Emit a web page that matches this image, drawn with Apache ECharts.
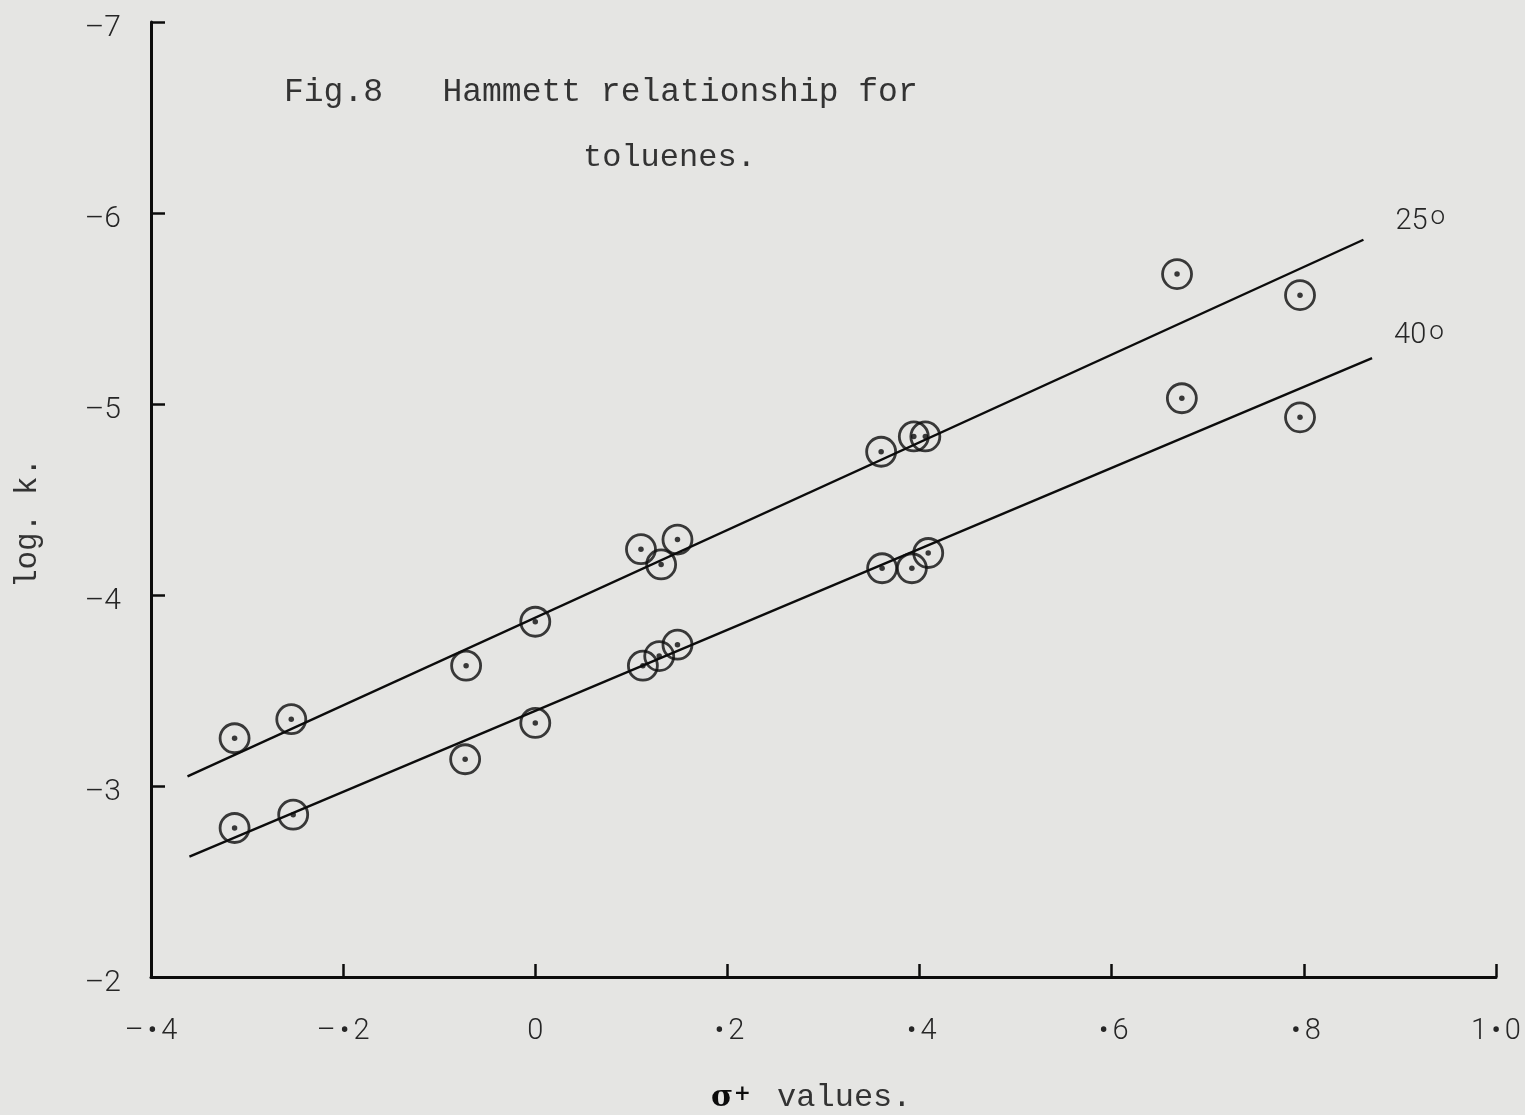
<!DOCTYPE html>
<html>
<head>
<meta charset="utf-8">
<title>Hammett relationship for toluenes</title>
<script src="https://cdn.jsdelivr.net/npm/echarts@6/dist/echarts.min.js"></script>
<style>
  html, body { margin: 0; padding: 0; background: #e5e5e3; }
  #chart { width: 1525px; height: 1115px; }
</style>
</head>
<body>
<div id="chart"></div>
<script>
// sigma+ constants of the substituents and measured log k at 25 and 40 degrees
const sigma25 = [-0.313, -0.254, -0.072, 0.000, 0.110, 0.131, 0.148, 0.360, 0.394, 0.406, 0.668, 0.796];
const logk25  = [-3.25, -3.35, -3.63, -3.86, -4.24, -4.16, -4.29, -4.75, -4.83, -4.83, -5.68, -5.57];
const sigma40 = [-0.313, -0.252, -0.073, 0.000, 0.112, 0.129, 0.148, 0.361, 0.392, 0.409, 0.673, 0.796];
const logk40  = [-2.78, -2.85, -3.14, -3.33, -3.63, -3.68, -3.74, -4.14, -4.14, -4.22, -5.03, -4.93];

// least-squares lines, drawn between their two end points
const fitX25 = [-0.362, 0.862];
const fitY25 = [-3.05, -5.86];
const fitX40 = [-0.360, 0.871];
const fitY40 = [-2.63, -5.24];

// axis ranges and tick labels
const xMin = -0.4, xMax = 1.0, xStep = 0.2;
const yMin = -7, yMax = -2, yStep = 1;
const xTickLabels = ['\u2013\u20224', '\u2013\u20222', '0', '\u20222', '\u20224', '\u20226', '\u20228', '1\u20220'];
const yTickLabels = ['\u20137', '\u20136', '\u20135', '\u20134', '\u20133', '\u20132'];

const ink = '#0c0c0c';
const typeInk = '#333333';
const letterInk = '#262626';
const letterFont = 'Roboto, "Liberation Sans", sans-serif';
const typeFont = '"Liberation Mono", "DejaVu Sans Mono", monospace';

const zip = (xs, ys) => xs.map((x, i) => [x, ys[i]]);

function ringSeries(xs, ys) {
  return {
    type: 'scatter', data: zip(xs, ys), symbol: 'circle', symbolSize: 29,
    itemStyle: { color: 'rgba(0,0,0,0)', borderColor: ink, borderWidth: 2.8 },
    silent: true, z: 3
  };
}
function dotSeries(xs, ys) {
  return {
    type: 'scatter', data: zip(xs, ys), symbol: 'circle', symbolSize: 5.5,
    itemStyle: { color: ink }, silent: true, z: 4
  };
}
function fitSeries(xs, ys, label, offset) {
  return {
    type: 'line', data: zip(xs, ys), showSymbol: false, symbol: 'none',
    lineStyle: { color: ink, width: 2.4 }, silent: true, z: 2,
    endLabel: {
      show: true, formatter: '{n|' + label + '}{d|o}', offset: offset,
      rich: {
        n: { fontFamily: letterFont, fontWeight: 300, fontSize: 29, color: letterInk, lineHeight: 34 },
        d: { fontFamily: letterFont, fontWeight: 300, fontSize: 26, color: letterInk, lineHeight: 10, verticalAlign: 'top', padding: [0, 0, 0, 3] }
      }
    }
  };
}

// tick labels: the decimal point is a raised dot
const dotLabel = s => s.replace(/\u2022/g, '{b|\u2022}');

const chart = echarts.init(document.getElementById('chart'), null, { renderer: 'canvas' });

chart.setOption({
  animation: false,
  backgroundColor: '#e5e5e3',
  grid: { left: 151, right: 29, top: 22, bottom: 138, containLabel: false, outerBoundsMode: 'none' },
  xAxis: {
    type: 'value', min: xMin, max: xMax, interval: xStep,
    splitLine: { show: false },
    axisLine: { show: true, onZero: false, lineStyle: { color: ink, width: 3 } },
    axisTick: { show: true, inside: true, length: 13, lineStyle: { color: ink, width: 2.5 } },
    axisLabel: {
      show: true, margin: 40, showMinLabel: true, showMaxLabel: true,
      color: letterInk, fontFamily: letterFont, fontWeight: 300, fontSize: 29,
      formatter: v => dotLabel(xTickLabels[Math.round((v - xMin) / xStep)] || ''),
      rich: { b: { fontFamily: letterFont, fontSize: 30, color: letterInk, padding: [0, 4, 0, 4] } }
    }
  },
  yAxis: {
    type: 'value', min: yMin, max: yMax, interval: yStep, inverse: true,
    splitLine: { show: false },
    axisLine: { show: true, onZero: false, lineStyle: { color: ink, width: 3 } },
    axisTick: { show: true, inside: true, length: 14, lineStyle: { color: ink, width: 2.5 } },
    axisLabel: {
      show: true, margin: 30, showMinLabel: true, showMaxLabel: true,
      color: letterInk, fontFamily: letterFont, fontWeight: 300, fontSize: 30,
      verticalAlign: 'top', lineHeight: 12,
      formatter: v => yTickLabels[Math.round((v - yMin) / yStep)] || ''
    }
  },
  series: [
    fitSeries(fitX25, fitY25, '25', [24, -18]),
    fitSeries(fitX40, fitY40, '40', [14, -22]),
    ringSeries(sigma25, logk25),
    dotSeries(sigma25, logk25),
    ringSeries(sigma40, logk40),
    dotSeries(sigma40, logk40)
  ],
  graphic: [
    {
      type: 'text', x: 284, y: 92,
      style: { text: 'Fig.8   Hammett relationship for', font: '33px ' + typeFont, fill: typeInk, verticalAlign: 'middle' }
    },
    {
      type: 'text', x: 583, y: 158,
      style: { text: 'toluenes.', font: '32px ' + typeFont, fill: typeInk, verticalAlign: 'middle' }
    },
    {
      type: 'text', x: 28, y: 523, rotation: Math.PI / 2,
      style: { text: 'log. k.', font: '31px ' + typeFont, fill: typeInk, align: 'center', verticalAlign: 'middle' }
    },
    {
      type: 'text', x: 711, y: 1098,
      style: {
        text: '{s|\u03c3}{p|+} values.',
        font: '32px ' + typeFont, fill: typeInk, verticalAlign: 'middle',
        rich: {
          s: { font: 'bold 30px "DejaVu Serif", serif', fill: ink },
          p: { font: '26px ' + letterFont, fill: ink, verticalAlign: 'top', padding: [0, 8, 0, 2] }
        }
      }
    }
  ]
});
</script>
</body>
</html>
